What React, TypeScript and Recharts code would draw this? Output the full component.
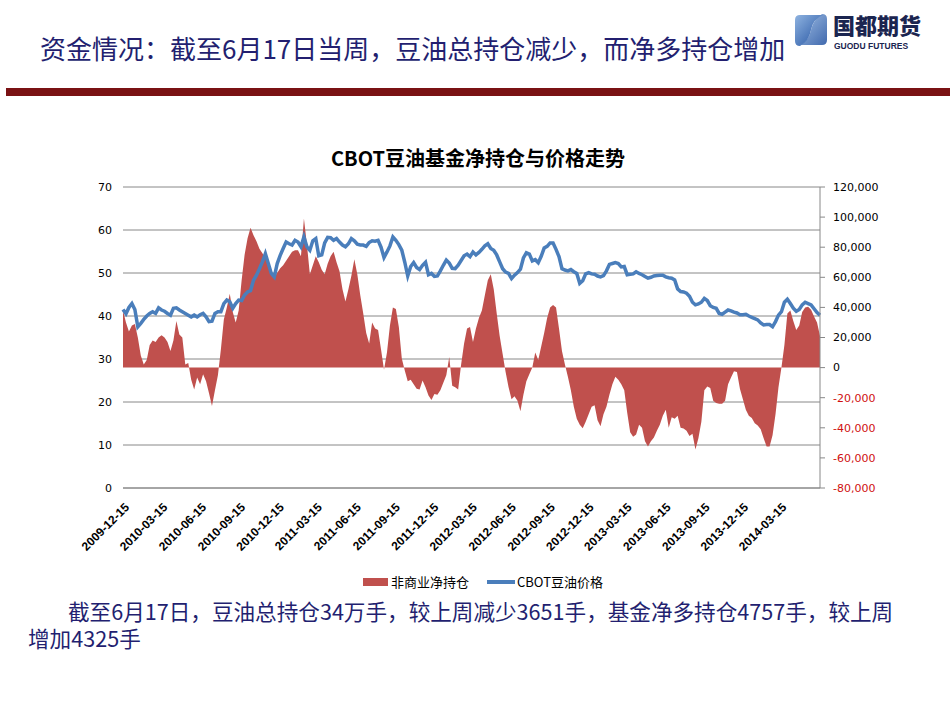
import React from "react";
import {
  ComposedChart,
  Area,
  Line,
  XAxis,
  YAxis,
  CartesianGrid,
} from "recharts";

// weekly COT report dates start here
const startDate = "2009-12-15";

// 非商业净持仓 (contracts), one value per week
const netPositions = [
  38000, 30000, 24000, 28000, 29000, 20000, 8000, 2000, 5000, 15000,
  18000, 17000, 20000, 21500, 20000, 17000, 11000, 18000, 31000, 22000,
  20000, 2000, 3000, -8000, -14500, -6500, -11000, -4500, -9000, -17000,
  -25500, -15000, -5000, 12000, 32000, 40000, 49000, 37000, 30000, 38000,
  58000, 75000, 86000, 93000, 88000, 84000, 79000, 76000, 73000, 68000,
  63000, 60000, 63000, 66000, 68000, 71000, 74000, 77000, 78000, 78000,
  74000, 99000, 82000, 62000, 68000, 74000, 70000, 65000, 62000, 69000,
  74000, 77000, 70000, 64000, 52000, 44000, 52000, 61000, 72000, 62000,
  48000, 36000, 23000, 16000, 30000, 26000, 25000, 12000, -1500, 10000,
  28000, 40000, 39000, 27000, 6000, -2000, -9000, -8000, -11000, -14000,
  -14500, -8500, -13000, -18500, -21500, -17500, -18000, -15000, -10000, -5000,
  7000, -12000, -13000, -14500, 2000, 16000, 26000, 27000, 17000, 26000,
  33000, 38000, 48000, 58000, 62000, 52000, 36000, 21000, 9000, -3000,
  -13000, -21000, -19000, -22000, -29000, -18000, -9000, -4500, 0, 10000,
  5000, 14000, 23000, 33000, 40000, 41600, 40000, 26000, 11000, 2000,
  -6000, -15000, -26000, -34000, -38000, -40300, -36000, -31000, -26000, -25000,
  -35000, -39000, -31000, -26000, -18000, -11000, -6000, -8000, -11000, -15000,
  -30000, -43000, -46000, -44500, -38000, -40000, -49000, -52500, -49000, -46500,
  -42000, -38000, -32000, -28000, -40000, -33000, -34000, -32000, -40000, -40500,
  -42000, -45500, -44000, -54500, -47000, -36000, -15000, -12500, -13500, -22000,
  -23500, -24000, -24000, -22000, -11000, -6500, -2500, -3000, -14000, -21000,
  -28000, -32000, -33500, -37000, -38500, -41000, -47000, -52500, -52500, -45000,
  -31000, -13000, 0, 15000, 36000, 38000, 31000, 25000, 28000, 37000,
  40000, 40500, 38500, 34000, 30000, 21000,
];

// CBOT豆油价格 (cents/lb), one value per week
const soyOilPrice = [
  41.5, 40.5, 42, 42.9, 41.5, 37.5, 38.3, 39.2, 40, 40.6,
  41, 40.6, 41.9, 41.4, 41.1, 40.6, 40.2, 41.8, 41.9, 41.4,
  41, 40.6, 40.2, 39.8, 40.2, 39.8, 40.3, 40.6, 39.8, 38.7,
  38.8, 40.6, 41, 41, 42.9, 43.7, 43.3, 41.8, 42.9, 43.7,
  43.6, 44.9, 45.6, 45.9, 48.3, 49.5, 51, 52.6, 54.5, 52.2,
  49.9, 49.1, 52.2, 54.1, 55.7, 57.2, 56.8, 56.5, 57.6, 57.2,
  56.1, 58.4, 56.1, 55.3, 57.5, 58, 54, 54.2, 57, 58.3,
  58.2, 57.6, 58, 57.2, 56.5, 56.1, 56.8, 58, 57.5, 56.7,
  56.5, 56.5, 56.2, 57.1, 57.5, 57.4, 57.6, 56, 53.6, 54.9,
  56.3, 58.4, 57.6, 56.6, 55.3, 52.5, 49.3, 51.5, 52.4, 51.3,
  50.8, 51.8, 52.5, 49.6, 49.9, 49.2, 49.3, 50.5, 51.8, 53,
  52.3, 51.1, 51, 51.8, 52.9, 54, 54.4, 53.8, 54.9, 54.2,
  54.8, 55.5, 56.3, 56.8, 55.7, 55.3, 54.2, 52.6, 51, 50.2,
  49.9, 48.7, 49.5, 50.1, 50.9, 53.5, 54.7, 54.4, 52.8, 53.1,
  52.4, 53.9, 55.8, 56.2, 57, 57, 55.5, 53.8, 51, 50.7,
  50.5, 50.8, 50.3, 49.9, 47.6, 48.2, 49.8, 50.1, 49.8, 49.7,
  49.3, 49.1, 49.4, 50.5, 52, 52.2, 52.4, 52.2, 51.4, 51.5,
  49.6, 49.7, 49.8, 50.3, 49.9, 49.6, 49.2, 48.8, 49, 49.3,
  49.4, 49.5, 49.5, 49.1, 48.9, 48.8, 48.4, 46.3, 45.7, 45.6,
  45.3, 44.6, 43.2, 42.6, 42.8, 43.2, 44.1, 43.6, 42.4, 42,
  41.8, 40.6, 40.4, 40.9, 41.4, 41.2, 40.9, 40.7, 40.3, 40.3,
  40.4, 40, 39.7, 39.4, 39.1, 38.4, 37.9, 38, 38, 37.5,
  38.7, 40.2, 41, 43.2, 43.9, 42.9, 41.8, 41.1, 41.5, 42.6,
  43.2, 42.9, 42.6, 41.7, 40.8, 40.2,
];

const dateTicks = [
  "2009-12-15", "2010-03-15", "2010-06-15", "2010-09-15", "2010-12-15",
  "2011-03-15", "2011-06-15", "2011-09-15", "2011-12-15", "2012-03-15",
  "2012-06-15", "2012-09-15", "2012-12-15", "2013-03-15", "2013-06-15",
  "2013-09-15", "2013-12-15", "2014-03-15",
];

const priceTicks = [0, 10, 20, 30, 40, 50, 60, 70];
const netTicks = [-80000, -60000, -40000, -20000, 0, 20000, 40000, 60000, 80000, 100000, 120000];

const DAY = 24 * 3600 * 1000;
const toTime = (s: string) => {
  const [y, m, d] = s.split("-").map(Number);
  return Date.UTC(y, m - 1, d);
};
const fmtDate = (t: number) => new Date(t).toISOString().slice(0, 10);

const t0 = toTime(startDate);
const data = netPositions.map((net, i) => ({
  t: t0 + i * 7 * DAY,
  net,
  price: soyOilPrice[i],
}));

const NAVY = "#231f70";

const DateTick = (props: any) => {
  const { x, y, payload } = props;
  return (
    <g transform={`translate(${x + 4},${y + 9})`}>
      <text
        x={0}
        y={0}
        dy="0.35em"
        textAnchor="end"
        transform="rotate(-45)"
        fontSize={12}
        fontWeight="bold"
        fontFamily="'Liberation Sans', Arial, sans-serif"
        fill="#000"
      >
        {fmtDate(payload.value)}
      </text>
    </g>
  );
};

const NetTick = (props: any) => {
  const { x, y, payload } = props;
  const v = payload.value as number;
  return (
    <text
      x={x}
      y={y}
      dy="0.35em"
      textAnchor="start"
      fontSize={11}
      fontFamily="'DejaVu Sans', Verdana, sans-serif"
      fill={v < 0 ? "#d01010" : "#000"}
    >
      {v.toLocaleString("en-US")}
    </text>
  );
};

function Logo() {
  return (
    <div style={{ position: "absolute", left: 792, top: 12, width: 150, height: 40 }}>
      <svg width={38} height={36} style={{ position: "absolute", left: 0, top: 0 }}>
        <defs>
          <linearGradient id="lg1" x1="0" y1="0" x2="1" y2="1">
            <stop offset="0%" stopColor="#8fb3e0" />
            <stop offset="100%" stopColor="#1f4f9f" />
          </linearGradient>
        </defs>
        <path d="M3 8 Q3 3 8 3 L31 3 Q21 7 19 18 Q17 29 8 34 Q3 34 3 29 Z" fill="url(#lg1)" />
        <path d="M35 28 Q35 33 30 33 L7 33 Q17 29 19 18 Q21 8 30 2 Q35 2 35 7 Z" fill="url(#lg1)" opacity={0.85} />
      </svg>
      <div
        style={{
          position: "absolute",
          left: 41,
          top: 1,
          fontFamily: "'Noto Sans CJK SC', sans-serif",
          fontWeight: 900,
          fontSize: 22,
          lineHeight: "22px",
          color: "#1b2550",
        }}
      >
        国都期货
      </div>
      <div
        style={{
          position: "absolute",
          left: 42,
          top: 30,
          fontFamily: "'Liberation Sans', Arial, sans-serif",
          fontWeight: "bold",
          fontSize: 8.5,
          lineHeight: "9px",
          color: "#1b2550",
          whiteSpace: "nowrap",
        }}
      >
        GUODU FUTURES
      </div>
    </div>
  );
}

export default function App() {
  return (
    <div
      style={{
        position: "absolute",
        left: 0,
        top: 0,
        width: 950,
        height: 713,
        background: "#fff",
        overflow: "hidden",
        fontFamily: "'Noto Sans CJK SC', sans-serif",
      }}
    >
      <div
        style={{
          position: "absolute",
          left: 40,
          top: 31,
          fontSize: 26,
          lineHeight: "34px",
          color: NAVY,
          whiteSpace: "nowrap",
        }}
      >
        资金情况：截至6月17日当周，豆油总持仓减少，而净多持仓增加
      </div>
      <Logo />
      <div style={{ position: "absolute", left: 6, top: 88, width: 944, height: 8, background: "#7a1214" }} />

      <div
        style={{
          position: "absolute",
          left: 0,
          width: 956,
          top: 144,
          textAlign: "center",
          fontSize: 20,
          fontWeight: "bold",
          lineHeight: "28px",
          color: "#000",
        }}
      >
        CBOT豆油基金净持仓与价格走势
      </div>

      <div style={{ position: "absolute", left: 0, top: 0 }}>
        <ComposedChart
          width={950}
          height={600}
          data={data}
          margin={{ top: 187, right: 0, bottom: 32, left: 0 }}
        >
          <CartesianGrid yAxisId="left" vertical={false} stroke="#888" />
          <XAxis
            dataKey="t"
            type="number"
            domain={["dataMin", "dataMax"]}
            ticks={dateTicks.map(toTime)}
            interval={0}
            height={80}
            tickLine={false}
            axisLine={{ stroke: "#888" }}
            tick={<DateTick />}
          />
          <YAxis
            yAxisId="left"
            width={123}
            domain={[0, 70]}
            ticks={priceTicks}
            tickLine={false}
            axisLine={false}
            tickMargin={5}
            tick={{ fontSize: 11, fill: "#000", fontFamily: "'DejaVu Sans', Verdana, sans-serif" }}
          />
          <YAxis
            yAxisId="right"
            orientation="right"
            width={130}
            domain={[-80000, 120000]}
            ticks={netTicks}
            tickSize={5}
            tickMargin={8}
            axisLine={{ stroke: "#888" }}
            tickLine={{ stroke: "#888" }}
            tick={<NetTick />}
          />
          <Area
            yAxisId="right"
            dataKey="net"
            type="linear"
            baseValue={0}
            fill="#c0504d"
            fillOpacity={1}
            stroke="none"
            isAnimationActive={false}
          />
          <Line
            yAxisId="left"
            dataKey="price"
            type="linear"
            stroke="#4a7ebb"
            strokeWidth={3.5}
            dot={false}
            isAnimationActive={false}
          />
        </ComposedChart>
      </div>

      <div style={{ position: "absolute", left: 363, top: 578, width: 25, height: 8, background: "#c0504d" }} />
      <div
        style={{
          position: "absolute",
          left: 391,
          top: 572,
          fontSize: 13,
          lineHeight: "20px",
          color: "#000",
          whiteSpace: "nowrap",
        }}
      >
        非商业净持仓
      </div>
      <div style={{ position: "absolute", left: 487, top: 580, width: 28, height: 4, background: "#4a7ebb" }} />
      <div
        style={{
          position: "absolute",
          left: 517,
          top: 572,
          fontSize: 13,
          lineHeight: "20px",
          color: "#000",
          whiteSpace: "nowrap",
        }}
      >
        CBOT豆油价格
      </div>

      <div
        style={{
          position: "absolute",
          left: 28,
          top: 597,
          width: 900,
          fontSize: 21.6,
          lineHeight: "27px",
          color: NAVY,
        }}
      >
        <div style={{ whiteSpace: "nowrap", paddingLeft: 40 }}>
          截至6月17日，豆油总持仓34万手，较上周减少3651手，基金净多持仓4757手，较上周
        </div>
        <div style={{ whiteSpace: "nowrap" }}>增加4325手</div>
      </div>
    </div>
  );
}
